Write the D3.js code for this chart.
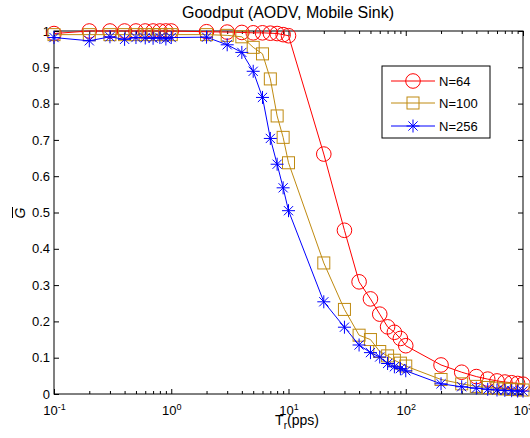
<!DOCTYPE html>
<html>
<head>
<meta charset="utf-8">
<script src="https://cdn.jsdelivr.net/npm/d3@7"></script>
<style>
  body { margin: 0; background: #fff; }
  text { font-family: "Liberation Sans", Arial, sans-serif; }
</style>
</head>
<body>
<svg id="chart" width="530" height="438"></svg>
<script>
// sending rate Tr (pps)
const rates = [0.1, 0.2, 0.3, 0.4, 0.5, 0.6, 0.7, 0.8, 0.9, 1,
    2, 3, 4, 5, 6, 7, 8, 9, 10,
    20, 30, 40, 50, 60, 70, 80, 90, 100,
    200, 300, 400, 500, 600, 700, 800, 900, 1000];

const goodN64 = [0.993, 1.0, 1.0, 1.0, 1.0, 1.0, 1.0, 1.0, 1.0, 1.0,
    0.998, 0.997, 0.996, 0.995, 0.995, 0.994, 0.993, 0.99, 0.987,
    0.661, 0.451, 0.309, 0.262, 0.22, 0.185, 0.17, 0.153, 0.133,
    0.08, 0.06, 0.048, 0.041, 0.036, 0.033, 0.031, 0.029, 0.027];

const goodN100 = [0.99, 0.99, 0.99, 0.99, 0.99, 0.99, 0.99, 0.99, 0.99, 0.99,
    0.99, 0.988, 0.984, 0.955, 0.937, 0.868, 0.766, 0.707, 0.637,
    0.361, 0.233, 0.162, 0.15, 0.117, 0.105, 0.093, 0.085, 0.077,
    0.04, 0.028, 0.021, 0.018, 0.016, 0.014, 0.013, 0.012, 0.011];

const goodN256 = [0.982, 0.973, 0.984, 0.977, 0.982, 0.981, 0.98, 0.982, 0.978, 0.982,
    0.983, 0.962, 0.941, 0.889, 0.817, 0.704, 0.633, 0.568, 0.505,
    0.254, 0.184, 0.135, 0.114, 0.102, 0.084, 0.075, 0.07, 0.064,
    0.028, 0.02, 0.016, 0.013, 0.011, 0.01, 0.009, 0.008, 0.008];

const seriesNames = ["N=64", "N=100", "N=256"];
const yTicks = [0, 0.1, 0.2, 0.3, 0.4, 0.5, 0.6, 0.7, 0.8, 0.9, 1];
const xMajor = [0.1, 1, 10, 100, 1000];

const series = [
    {name: seriesNames[0], values: goodN64, color: "#ff0000", marker: "circle"},
    {name: seriesNames[1], values: goodN100, color: "#bf8a10", marker: "square"},
    {name: seriesNames[2], values: goodN256, color: "#0000ff", marker: "star"}
];

const plotL = 54, plotR = 523, plotT = 31, plotB = 394;

const x = d3.scaleLog().domain([0.1, 1000]).range([plotL, plotR]);
const y = d3.scaleLinear().domain([0, 1]).range([plotB, plotT]);

const svg = d3.select("#chart");

// minor ticks for log axis
const xMinor = [];
for (let e = -1; e < 3; e++)
    for (let k = 2; k <= 9; k++) xMinor.push(k * Math.pow(10, e));

// bottom axis
const gx = svg.append("g").attr("transform", `translate(0,${plotB})`);
gx.call(d3.axisBottom(x).tickValues(xMinor).tickSize(-3).tickSizeOuter(0).tickFormat(""));
const gx2 = svg.append("g").attr("transform", `translate(0,${plotB})`);
gx2.call(d3.axisBottom(x).tickValues(xMajor).tickSize(-5).tickSizeOuter(0).tickPadding(12));
gx2.selectAll(".tick text")
    .attr("font-size", 13)
    .text(null)
    .each(function(d) {
        const t = d3.select(this);
        t.append("tspan").text("10");
        t.append("tspan").attr("dy", "-0.55em").attr("font-size", 9)
            .text(Math.round(Math.log10(d)));
    });

// top axis (ticks only)
svg.append("g").attr("transform", `translate(0,${plotT})`)
    .call(d3.axisTop(x).tickValues(xMinor).tickSize(-3).tickSizeOuter(0).tickFormat(""));
svg.append("g").attr("transform", `translate(0,${plotT})`)
    .call(d3.axisTop(x).tickValues(xMajor).tickSize(-5).tickSizeOuter(0).tickFormat(""));

// left axis
svg.append("g").attr("transform", `translate(${plotL},0)`)
    .call(d3.axisLeft(y).tickValues(yTicks).tickSize(-5).tickSizeOuter(0).tickPadding(4)
        .tickFormat(d => d3.format("")(+d.toFixed(1))))
    .selectAll("text").attr("font-size", 13);

// right axis
svg.append("g").attr("transform", `translate(${plotR},0)`)
    .call(d3.axisRight(y).tickValues(yTicks).tickSize(-5).tickSizeOuter(0).tickFormat(""));

svg.selectAll(".domain").remove();
svg.selectAll(".tick line").attr("stroke", "#000");
svg.selectAll(".tick text").attr("fill", "#000");

// box
svg.append("rect")
    .attr("x", plotL).attr("y", plotT)
    .attr("width", plotR - plotL).attr("height", plotB - plotT)
    .attr("fill", "none").attr("stroke", "#000").attr("stroke-width", 1);

// markers
function drawMarker(g, type, color) {
    if (type === "circle") {
        g.append("circle").attr("r", 7.3).attr("fill", "none")
            .attr("stroke", color).attr("stroke-width", 1);
    } else if (type === "square") {
        g.append("rect").attr("x", -6).attr("y", -6).attr("width", 12).attr("height", 12)
            .attr("fill", "none").attr("stroke", color).attr("stroke-width", 1);
    } else {
        const s = 6.5, d = 4.6;
        g.append("path")
            .attr("d", `M${-s},0L${s},0M0,${-s}L0,${s}M${-d},${-d}L${d},${d}M${-d},${d}L${d},${-d}`)
            .attr("stroke", color).attr("stroke-width", 1).attr("fill", "none");
    }
}

const line = d3.line().x(d => x(d[0])).y(d => y(d[1]));

series.forEach(s => {
    const pts = rates.map((r, i) => [r, s.values[i]]);
    svg.append("path")
        .datum(pts)
        .attr("d", line)
        .attr("fill", "none")
        .attr("stroke", s.color)
        .attr("stroke-width", 1);
    svg.append("g").selectAll("g")
        .data(pts)
        .join("g")
        .attr("transform", d => `translate(${x(d[0])},${y(d[1])})`)
        .each(function() { drawMarker(d3.select(this), s.marker, s.color); });
});

// title
svg.append("text")
    .attr("x", 288).attr("y", 18)
    .attr("text-anchor", "middle")
    .attr("font-size", 16)
    .text("Goodput (AODV, Mobile Sink)");

// x label
const xl = svg.append("text")
    .attr("x", 297).attr("y", 425)
    .attr("text-anchor", "middle")
    .attr("font-size", 14);
xl.append("tspan").text("T");
xl.append("tspan").attr("dy", 4).attr("font-size", 10).text("r");
xl.append("tspan").attr("dy", -4).text("(pps)");

// y label: G with overline
const yl = svg.append("g").attr("transform", "translate(25,213) rotate(-90)");
yl.append("text")
    .attr("text-anchor", "middle")
    .attr("font-size", 14)
    .attr("font-style", "italic")
    .text("G");
yl.append("line")
    .attr("x1", -5).attr("x2", 6)
    .attr("y1", -12.5).attr("y2", -12.5)
    .attr("stroke", "#000").attr("stroke-width", 1);

// legend
const lg = svg.append("g").attr("transform", "translate(382,66)");
lg.append("rect")
    .attr("width", 108).attr("height", 72)
    .attr("fill", "#fff").attr("stroke", "#000").attr("stroke-width", 1);
const legY = [15, 37, 60];
series.forEach((s, i) => {
    const row = lg.append("g").attr("transform", `translate(0,${legY[i]})`);
    row.append("line").attr("x1", 9).attr("x2", 53)
        .attr("stroke", s.color).attr("stroke-width", 1);
    drawMarker(row.append("g").attr("transform", "translate(31,0)"), s.marker, s.color);
    row.append("text").attr("x", 57).attr("dy", "0.36em")
        .attr("font-size", 13).text(s.name);
});
</script>
</body>
</html>
